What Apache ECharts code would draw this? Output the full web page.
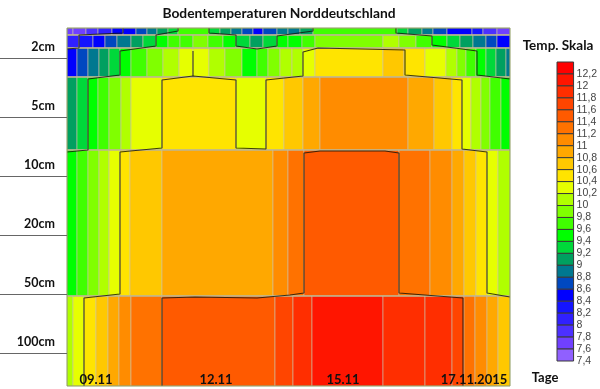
<!DOCTYPE html>
<html><head><meta charset="utf-8">
<style>html,body{margin:0;padding:0;background:#fff}#c{width:600px;height:389px}</style>
<script src="https://cdn.jsdelivr.net/npm/echarts@6/dist/echarts.min.js"></script>
</head><body><div id="c"></div>
<script>
// --- data (x = time units, y = depth units on the chart's axes) ---
const rowLimits = [0, 7, 20, 49, 122, 268, 358];
const row0Edges = [0,6,19,31,45,56,69,80,90,101,111,142,153,164,175,186,196,210,221,233,246,330,341,355,366,380,405,416,430,443];
const row0Temps = [7.6,7.6,7.8,8.0,8.4,8.4,8.6,8.8,9.0,9.2,9.6,9.2,9.0,8.8,8.6,8.4,8.6,8.8,8.8,9.0,9.6,9.2,9.0,8.8,8.6,8.4,8.2,7.8,7.6];
const row1Edges = [0,12,26,38,50,64,76,89,101,113,126,141,156,169,183,196,210,221,235,248,316,332,349,365,380,393,406,419,430,443];
const row1Temps = [8.0,8.2,8.4,8.6,8.8,9.0,9.2,9.4,9.6,9.6,9.8,9.6,9.4,9.2,9.0,9.2,9.4,9.4,9.6,9.8,10.0,9.8,9.6,9.4,9.2,9.0,8.8,8.6,8.4];
const row2Edges = [0,10,21,32,42,53,64,80,96,112,126,142,158,175,190,201,213,225,236,248,316,337,358,379,390,399,409,419,429,439,443];
const row2Temps = [8.4,8.6,8.8,9.0,9.2,9.4,9.6,9.8,10.0,10.2,10.2,10.0,9.8,9.4,9.6,9.8,10.0,10.0,10.2,10.4,10.6,10.4,10.2,10.0,9.8,9.6,9.4,9.2,9.0,8.8];
const row3Edges = [0,10,21,31,42,54,64,95,169,199,217,236,253,341,367,385,395,404,414,423,434,443];
const row3Temps = [9.0,9.2,9.4,9.6,9.8,10.0,10.2,10.4,10.2,10.4,10.6,10.8,11.0,10.8,10.6,10.4,10.2,10.0,9.8,9.6,9.4];
const row4Edges = [0,10,21,32,42,53,63,95,206,221,237,332,363,385,397,409,420,431,443];
const row4Temps = [9.4,9.6,9.8,10.0,10.2,10.4,10.6,10.8,11.0,11.2,11.4,11.2,11.0,10.8,10.6,10.4,10.2,10.0];
const row5Edges = [0,6,17,29,41,52,64,95,208,226,245,316,358,385,397,408,420,431,443];
const row5Temps = [10.0,10.2,10.4,10.6,10.8,11.0,11.2,11.4,11.6,11.8,12.0,11.8,11.8,11.6,11.2,11.0,10.8,10.6];
const contourA = [[111,0],[111,3],[89,7],[89,18],[53,23],[53,47],[21,51],[21,122],[0,124]];
const contourB = [[142,0],[142,5],[169,7],[169,18],[190,21],[210,18],[210,8],[246,3],[246,0]];
const contourC = [[329,0],[329,5],[365,8],[365,17],[410,23],[410,47],[443,51]];
const contourD = [[17,358],[17,270],[53,266],[53,124],[95,120],[95,52],[126,48],[169,52],[169,120],[199,121],[199,52],[236,48],[236,24],[251,20],[338,22],[338,47],[395,52],[395,121],[420,124],[420,265],[443,269]];
const contourE = [[126,23],[126,48]];
const contourF = [[95,358],[95,270],[128,269],[190,270],[223,267],[237,265],[237,125],[253,123],[318,123],[332,125],[332,265],[396,270],[396,358]];
const contourG = [[0,21],[12,20],[12,7],[56,5],[56,0]];
const depthTicks = [30,89,148,207,266,325];
const depthLabels = ['2cm','5cm','10cm','20cm','50cm','100cm'];
const dayTicks = [29,149,276,407];
const dayLabels = ['09.11','12.11','15.11','17.11.2015'];
const scaleTemps = [12.2,12,11.8,11.6,11.4,11.2,11,10.8,10.6,10.4,10.2,10,9.8,9.6,9.4,9.2,9,8.8,8.6,8.4,8.2,8,7.8,7.6,7.4];
const scaleColors = ['#ff0000','#ff1500','#ff2e00','#ff4500','#ff5a00','#ff7200','#ff8c00','#ffa800','#ffc800','#ffe400','#e6ff00','#b0ff00','#80ff00','#40ff00','#00ff00','#00d83a','#00a060','#007890','#0048c0','#0000ff','#1414ff','#3020ff','#4c30ff','#7040ff','#9060ff'];

const colorOf = t => scaleColors[scaleTemps.findIndex(v => Math.abs(v - t) < 0.01)];
const rows = [[row0Edges,row0Temps],[row1Edges,row1Temps],[row2Edges,row2Temps],[row3Edges,row3Temps],[row4Edges,row4Temps],[row5Edges,row5Temps]];
const cells = [];
rows.forEach(([edges,temps],r) => temps.forEach((t,i) => cells.push([edges[i],edges[i+1],rowLimits[r],rowLimits[r+1],t])));
const scaleCells = scaleTemps.map(t => [t, t + 0.2]);

const FONT = 'Lato';
const contour = data => ({type:'line',xAxisIndex:0,yAxisIndex:0,data,symbol:'none',z:5,clip:true,
  lineStyle:{color:'#15150a',width:1.1,opacity:.82},emphasis:{disabled:true}});

const chart = echarts.init(document.getElementById('c'),null,{renderer:'canvas'});
chart.setOption({
  animation:false,
  backgroundColor:'#fff',
  title:[
    {text:'Bodentemperaturen Norddeutschland',left:274,top:2,textAlign:'center',textStyle:{fontFamily:FONT,fontSize:13.8,fontWeight:'bold',color:'#111'}},
    {text:'Temp. Skala',left:553,top:34,textAlign:'center',textStyle:{fontFamily:FONT,fontSize:13.5,fontWeight:'bold',color:'#111'}},
    {text:'Tage',left:540,top:366,textAlign:'center',textStyle:{fontFamily:FONT,fontSize:13,fontWeight:'bold',color:'#111'}}
  ],
  grid:[
    {left:67,top:28,width:443,height:358,show:true,borderColor:'#8c9a5c',borderWidth:1,backgroundColor:'transparent',z:6},
    {left:557,top:62,width:19,height:299}
  ],
  xAxis:[
    {type:'value',gridIndex:0,min:0,max:443,z:10,splitLine:{show:false},axisLine:{show:false},
     axisTick:{show:false,customValues:dayTicks},
     axisLabel:{inside:true,margin:0,customValues:dayTicks,hideOverlap:false,
       formatter:v=>dayLabels[dayTicks.indexOf(v)],
       fontFamily:FONT,fontSize:13,fontWeight:'bold',color:'#111',verticalAlign:'bottom'}},
    {type:'value',gridIndex:1,min:0,max:1,show:false}
  ],
  yAxis:[
    {type:'value',gridIndex:0,inverse:true,min:0,max:358,z:10,splitLine:{show:false},axisLine:{show:false},
     axisTick:{show:true,length:67,customValues:depthTicks,lineStyle:{color:'#666',width:1}},
     axisLabel:{customValues:depthTicks,margin:12,formatter:v=>depthLabels[depthTicks.indexOf(v)],
       fontFamily:FONT,fontSize:12.5,fontWeight:'bold',color:'#111',verticalAlign:'bottom',lineHeight:18,padding:[0,0,2,0]}},
    {type:'value',gridIndex:1,position:'right',min:7.4,max:12.4,interval:0.2,splitLine:{show:false},axisLine:{show:false},axisTick:{show:false},
     axisLabel:{margin:3,showMaxLabel:false,showMinLabel:true,formatter:v=>String(parseFloat(v.toFixed(1))).replace('.',','),
       fontFamily:'Liberation Sans',fontSize:10.5,color:'#444'}}
  ],
  series:[
    {type:'custom',xAxisIndex:0,yAxisIndex:0,data:cells,z:2,silent:true,clip:true,
     encode:{x:[0,1],y:[2,3]},
     renderItem:(p,api)=>{
       const a=api.coord([api.value(0),api.value(2)]),b=api.coord([api.value(1),api.value(3)]);
       return {type:'group',children:[
         {type:'rect',shape:{x:a[0],y:a[1],width:b[0]-a[0],height:b[1]-a[1]},
          style:{fill:colorOf(api.value(4)),stroke:'rgba(205,195,170,.6)',lineWidth:1}},
         {type:'line',shape:{x1:a[0],y1:a[1],x2:b[0],y2:a[1]},
          style:{stroke:api.value(2)>0?'rgba(190,180,140,.7)':'rgba(0,0,0,0)',lineWidth:2}}
       ]};
     }},
    contour(contourA),contour(contourB),contour(contourC),contour(contourD),contour(contourE),contour(contourF),contour(contourG),
    {type:'custom',xAxisIndex:1,yAxisIndex:1,data:scaleCells,z:2,silent:true,
     encode:{y:[0,1]},
     renderItem:(p,api)=>{
       const a=api.coord([0,api.value(1)]),b=api.coord([1,api.value(0)]);
       return {type:'rect',shape:{x:a[0],y:a[1],width:b[0]-a[0],height:b[1]-a[1]},
         style:{fill:scaleColors[p.dataIndex],stroke:'#3a3a3a',lineWidth:1}};
     }}
  ]
});
</script></body></html>
